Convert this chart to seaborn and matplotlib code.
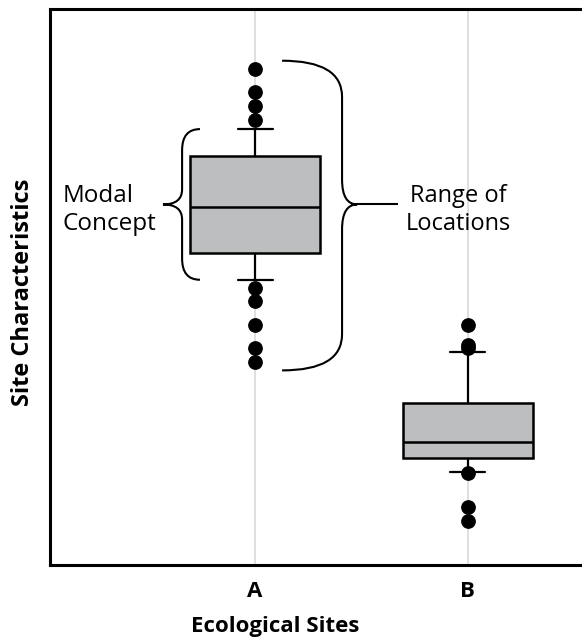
# Libraries
import pandas as pd
import seaborn as sns
import matplotlib.pyplot as plt
from matplotlib.path import Path
from matplotlib.patches import PathPatch

# Data (unitless 0-100 scale)
sites = ["A", "B"]
site_a = [36.5, 39.0, 43.2, 47.5, 49.9, 51.3, 56.2, 57.5, 59.0, 60.4, 61.8, 63.1, 64.3,
          65.8, 67.5, 69.2, 70.8, 72.3, 73.6, 76.0, 78.4, 80.0, 82.6, 85.0, 89.2]
site_b = [8.0, 10.5, 16.6, 16.8, 19.2, 20.0, 20.8, 21.5, 22.1, 23.5, 25.4, 27.3, 29.1,
          38.3, 39.0, 39.6, 43.2]

df = pd.DataFrame({
    "site": ["A"] * len(site_a) + ["B"] * len(site_b),
    "value": site_a + site_b,
})

# Style
sns.set_theme(style="white")
plt.rcParams['font.family'] = ['Open Sans', 'DejaVu Sans']
plt.rcParams['text.color'] = 'black'

fig = plt.figure(figsize=(5.82, 6.41), dpi=100)
ax = fig.add_axes([50 / 582, 1 - 565 / 641, 532 / 582, 556 / 641])

## Boxplot
sns.boxplot(data=df, x="site", y="value", order=sites, color="#bcbec0", saturation=1,
            width=0.61, whis=(17.5, 85), linecolor="black", linewidth=1.8, fliersize=9.6,
            flierprops=dict(marker="o", markerfacecolor="black", markeredgecolor="black"),
            whiskerprops=dict(linewidth=1.6), capprops=dict(linewidth=1.6),
            capwidths=0.165, ax=ax)


## Curly braces
def brace(ax, x_end, x_mid, x_tip, y_lo, y_hi, y_tip, r_end, r_tip, stem=None):
    verts = [(x_end, y_hi),
             (x_mid, y_hi), (x_mid, y_hi - r_end),
             (x_mid, y_tip + r_tip),
             (x_mid, y_tip), (x_tip, y_tip),
             (x_mid, y_tip), (x_mid, y_tip - r_tip),
             (x_mid, y_lo + r_end),
             (x_mid, y_lo), (x_end, y_lo)]
    codes = [Path.MOVETO, Path.CURVE3, Path.CURVE3, Path.LINETO, Path.CURVE3, Path.CURVE3,
             Path.CURVE3, Path.CURVE3, Path.LINETO, Path.CURVE3, Path.CURVE3]
    ax.add_patch(PathPatch(Path(verts, codes), fill=False, lw=1.5, color="black",
                           capstyle="butt"))
    if stem is not None:
        ax.plot([x_tip, stem], [y_tip, y_tip], color="black", lw=1.5,
                solid_capstyle="butt")


pos_a = sites.index("A")
whis_lo, whis_hi = 51.3, 78.4
mid = (whis_lo + whis_hi) / 2

brace(ax, pos_a - 0.259, pos_a - 0.343, pos_a - 0.433, whis_lo, whis_hi, mid, 3.8, 2.7)
brace(ax, pos_a + 0.127, pos_a + 0.409, pos_a + 0.480,
      min(site_a) - 1.5, max(site_a) + 1.5, mid, 6.5, 4.5, stem=pos_a + 0.672)

ax.text(pos_a - 0.906, mid - 1.0, "Modal\nConcept", ha="left", va="center", fontsize=17.5,
        color="black", linespacing=1.17)
ax.text(pos_a + 0.955, mid - 1.0, "Range of\nLocations", ha="center", va="center",
        fontsize=17, color="black", linespacing=1.17)

## Axes
ax.set_xlim(-0.964, 1.537)
ax.set_ylim(0, 100)
ax.set_yticks([])
ax.grid(True, axis="x", color="#d9d9d9", linewidth=1.2)
ax.set_axisbelow(True)
ax.tick_params(axis="x", length=0, pad=11.5, labelsize=16, labelcolor="black")
for lbl in ax.get_xticklabels():
    lbl.set_fontweight("bold")

ax.spines["right"].set_visible(False)
for side in ["left", "top", "bottom"]:
    ax.spines[side].set_color("black")
    ax.spines[side].set_linewidth(2.2)

ax.set_xlabel("Ecological Sites", fontsize=16, fontweight="bold", color="black")
ax.xaxis.set_label_coords(0.423, -0.091)
ax.set_ylabel("Site Characteristics", fontsize=17, fontweight="bold", color="black")
ax.yaxis.set_label_coords(-0.028, 0.49)

fig.savefig("out.png", dpi=100)
